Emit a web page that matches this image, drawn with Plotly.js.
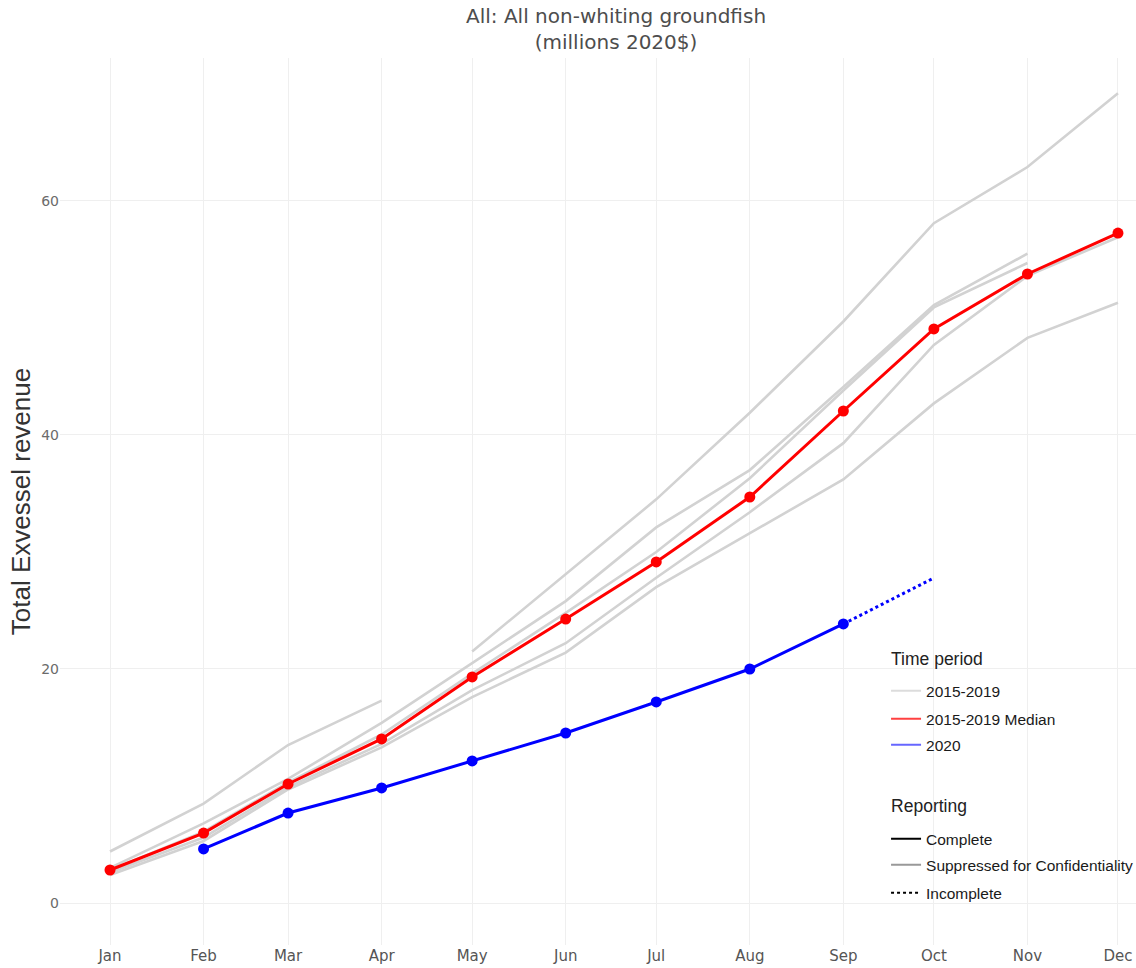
<!DOCTYPE html>
<html><head><meta charset="utf-8">
<script src="https://cdn.plot.ly/plotly-3.0.1.min.js"></script>
<style>html,body{margin:0;padding:0;overflow:hidden;background:#fff}#chart{width:1136px;height:968px}</style>
</head><body><div id="chart"></div>
<script>
// Month categories and their (non-leap year) dates used for the time axis
const months = ['Jan','Feb','Mar','Apr','May','Jun','Jul','Aug','Sep','Oct','Nov','Dec'];
const monthDates = ['2019-01-01','2019-02-01','2019-03-01','2019-04-01','2019-05-01','2019-06-01',
                    '2019-07-01','2019-08-01','2019-09-01','2019-10-01','2019-11-01','2019-12-01'];
const yTicks = [0, 20, 40, 60];

// 2015-2019 individual years (cumulative revenue, millions 2020$)
const grayTopEarly = [4.4, 8.5, 13.5, 17.3, null, null, null, null, null, null, null, null];
const grayTopLate  = [null, null, null, null, 21.5, 28.1, 34.5, 41.9, 49.7, 58.1, 62.9, 69.2];
const grayB = [3.0, 6.8, 10.6, 15.4, 20.5, 25.8, 32.1, 37.0, 44.1, 51.1, 55.5, null];
const grayC = [2.8, 6.1, 10.3, 14.4, 19.6, 24.8, 30.0, 36.3, 43.8, 50.9, 54.7, null];
const grayD = [2.6, 5.6, 9.9, 13.6, 18.2, 22.2, 27.8, 33.4, 39.3, 47.7, 53.6, 56.9];
const grayE = [2.4, 5.3, 9.7, 13.3, 17.6, 21.4, 27.0, 31.6, 36.2, 42.7, 48.3, 51.3];

// 2015-2019 median
const median = [2.82, 5.98, 10.17, 14.02, 19.32, 24.27, 29.15, 34.7, 42.05, 49.06, 53.76, 57.26];

// 2020 (complete) and the incomplete last segment
const y2020 = [null, 4.62, 7.69, 9.83, 12.14, 14.53, 17.18, 20.0, 23.85, null, null, null];
const y2020Incomplete = [null, null, null, null, null, null, null, null, 23.85, 27.78, null, null];

const GRAY = 'rgb(210,210,210)';
const grayList = [grayTopEarly, grayTopLate, grayB, grayC, grayD, grayE];

const traces = [];
grayList.forEach(function (ys) {
  traces.push({x: monthDates, y: ys, type: 'scatter', mode: 'lines', showlegend: false,
    hoverinfo: 'skip', line: {color: GRAY, width: 2.6}});
});
traces.push({x: monthDates, y: median, type: 'scatter', mode: 'lines+markers', showlegend: false,
  line: {color: '#ff0000', width: 3}, marker: {color: '#ff0000', size: 11}});
traces.push({x: monthDates, y: y2020Incomplete, type: 'scatter', mode: 'lines', showlegend: false,
  line: {color: '#0000ff', width: 3, dash: 'dot'}});
traces.push({x: monthDates, y: y2020, type: 'scatter', mode: 'lines+markers', showlegend: false,
  line: {color: '#0000ff', width: 3}, marker: {color: '#0000ff', size: 11}});

// legend-only entries
const legendTime = [
  {name: '2015-2019', color: 'rgb(220,220,220)', dash: 'solid'},
  {name: '2015-2019 Median', color: 'rgba(255,0,0,0.75)', dash: 'solid'},
  {name: '2020', color: 'rgba(0,0,255,0.6)', dash: 'solid'}
];
const legendRep = [
  {name: 'Complete', color: '#000000', dash: 'solid'},
  {name: 'Suppressed for Confidentiality', color: '#999999', dash: 'solid'},
  {name: 'Incomplete', color: '#000000', dash: 'dot'}
];
legendTime.forEach(function (e, i) {
  const t = {x: [null], y: [null], type: 'scatter', mode: 'lines', name: e.name,
    legendgroup: 'time', line: {color: e.color, width: 2, dash: e.dash}};
  if (i === 0) t.legendgrouptitle = {text: 'Time period'};
  traces.push(t);
});
legendRep.forEach(function (e, i) {
  const t = {x: [null], y: [null], type: 'scatter', mode: 'lines', name: e.name,
    legendgroup: 'rep', line: {color: e.color, width: 2, dash: e.dash}};
  if (i === 0) t.legendgrouptitle = {text: 'Reporting'};
  traces.push(t);
});

const layout = {
  width: 1136, height: 968,
  margin: {l: 60, r: 0, t: 58, b: 23, autoexpand: false},
  paper_bgcolor: '#ffffff', plot_bgcolor: '#ffffff',
  title: {text: 'All: All non-whiting groundfish<br>(millions 2020$)',
    font: {family: 'DejaVu Sans', size: 20, color: '#4d4d4d'},
    x: 0.5423, xref: 'container', xanchor: 'center', y: 0.976, yref: 'container', yanchor: 'top'},
  xaxis: {type: 'date', range: ['2018-12-15 10:22', '2019-12-06 23:17'],
    tickvals: monthDates, ticktext: months, showgrid: true, gridcolor: '#efefef', gridwidth: 1,
    zeroline: false, showline: false, ticks: '', automargin: false,
    tickfont: {family: 'DejaVu Sans', size: 15, color: '#555555'}},
  yaxis: {range: [-3.59, 72.22], tickvals: yTicks, showgrid: true, gridcolor: '#efefef', gridwidth: 1,
    zeroline: false, showline: false, ticks: '', automargin: false,
    tickfont: {family: 'DejaVu Sans', size: 14, color: '#6b6b6b'},
    title: {text: 'Total Exvessel revenue', font: {family: 'Liberation Sans', size: 26, color: '#333333'}, standoff: 3}},
  legend: {x: 0.7677, y: 0.343, xanchor: 'left', yanchor: 'top', traceorder: 'grouped',
    tracegroupgap: 30, bgcolor: 'rgba(255,255,255,0)',
    font: {family: 'Liberation Sans', size: 15.5, color: '#1a1a1a'},
    grouptitlefont: {family: 'Liberation Sans', size: 17.5, color: '#222222'}},
  showlegend: true,
  hovermode: false
};

Plotly.newPlot('chart', traces, layout, {displayModeBar: false, staticPlot: true}).then(function (gd) {
  // spread the legend rows to the reference's row pitch (second group is offset by its own container)
  const offsets = [0, 32, 60, 86, 117, 150, 176, 204];
  const items = gd.querySelectorAll('.legend .traces');
  const re = /translate\(\s*([-\d.e]+)[\s,]+([-\d.e]+)\s*\)/;
  if (items.length === offsets.length) {
    const m0 = re.exec(items[0].getAttribute('transform') || '');
    if (m0) {
      const y0 = parseFloat(m0[2]);
      items.forEach(function (g, i) {
        const m = re.exec(g.getAttribute('transform') || '');
        if (m) g.setAttribute('transform', 'translate(' + m[1] + ',' + (y0 + offsets[i]) + ')');
      });
      gd.querySelectorAll('clipPath[id^="legend"] rect').forEach(function (r) {
        r.setAttribute('height', '300');
      });
      const bg = gd.querySelector('.legend rect.bg');
      if (bg) bg.setAttribute('height', '262');
    }
  }
});
</script>
</body></html>
